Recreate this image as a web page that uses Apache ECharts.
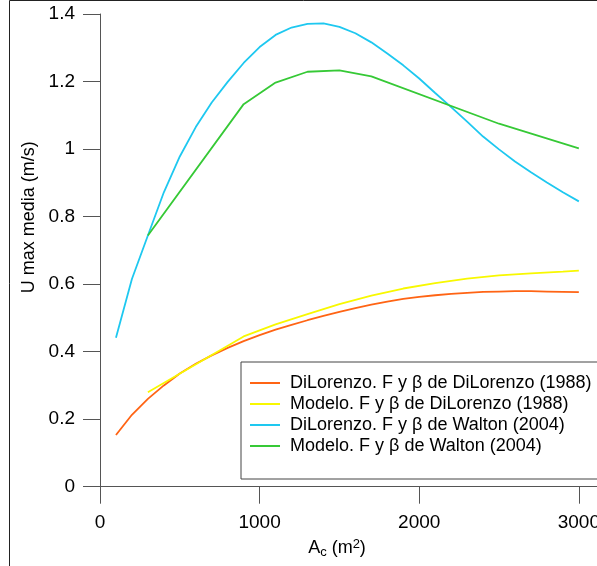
<!DOCTYPE html>
<html>
<head>
<meta charset="utf-8">
<script src="https://cdn.jsdelivr.net/npm/echarts@6/dist/echarts.min.js"></script>
<style>
  html, body { margin: 0; padding: 0; background: #fff; }
  #chart { width: 597px; height: 566px; }
</style>
</head>
<body>
<div id="chart"></div>
<script>
// ancho de canal Ac (m2)
const acDense = [100, 200, 300, 400, 500, 600, 700, 800, 900, 1000,
  1100, 1200, 1300, 1400, 1500, 1600, 1700, 1800, 1900, 2000,
  2100, 2200, 2300, 2400, 2500, 2600, 2700, 2800, 2900, 3000]
const diLorenzoDiLorenzo = [0.153, 0.213, 0.260, 0.300, 0.335, 0.364, 0.389, 0.411, 0.431, 0.449,
  0.465, 0.479, 0.493, 0.506, 0.518, 0.529, 0.539, 0.548, 0.556, 0.562,
  0.567, 0.571, 0.574, 0.577, 0.578, 0.579, 0.579, 0.578, 0.577, 0.576]
const diLorenzoWalton = [0.441, 0.615, 0.744, 0.872, 0.978, 1.065, 1.138, 1.199, 1.255, 1.302,
  1.338, 1.360, 1.371, 1.372, 1.362, 1.343, 1.316, 1.283, 1.248, 1.209,
  1.166, 1.124, 1.081, 1.037, 0.999, 0.963, 0.931, 0.901, 0.872, 0.845]

const acModelo = [300, 900, 1100, 1300, 1500, 1700, 1900, 2100, 2300, 2500, 2700, 2900, 3000]
const modeloDiLorenzo = [0.280, 0.445, 0.481, 0.511, 0.541, 0.566, 0.587, 0.603, 0.616, 0.626, 0.632, 0.637, 0.640]

const acModeloW = [300, 900, 1100, 1300, 1500, 1700, 2500, 3000]
const modeloWalton = [0.744, 1.133, 1.197, 1.229, 1.233, 1.215, 1.075, 1.002]

const seriesNames = [
  'DiLorenzo. F y β de DiLorenzo (1988)',
  'Modelo. F y β de DiLorenzo (1988)',
  'DiLorenzo. F y β de Walton (2004)',
  'Modelo. F y β de Walton (2004)'
]
const seriesColors = ['#ff6414', '#f8f800', '#1ec8f0', '#36c936']

const pairs = (xs, ys) => xs.map((x, i) => [x, ys[i]])
const seriesData = [
  pairs(acDense, diLorenzoDiLorenzo),
  pairs(acModelo, modeloDiLorenzo),
  pairs(acDense, diLorenzoWalton),
  pairs(acModeloW, modeloWalton)
]

const font = 'Liberation Sans, Arial, sans-serif'
const axisGray = '#555'

const chart = echarts.init(document.getElementById('chart'))
chart.setOption({
  animation: false,
  textStyle: { fontFamily: font },
  grid: { left: 100, top: 14, width: 498, height: 472.7, outerBoundsMode: 'none', containLabel: false },
  graphic: [{
    type: 'rect',
    shape: { x: 9.5, y: 0.5, width: 620, height: 620 },
    style: { fill: 'none', stroke: '#222', lineWidth: 1 },
    silent: true
  }],
  legend: {
    orient: 'vertical',
    left: 241,
    top: 362,
    padding: [12, 30, 24, 9],
    itemGap: 3,
    itemWidth: 30,
    itemHeight: 2,
    icon: 'rect',
    backgroundColor: '#fff',
    borderColor: '#444',
    borderWidth: 1,
    textStyle: { fontSize: 18, color: '#000', fontFamily: font, padding: [0, 0, 0, 5] },
    data: seriesNames
  },
  xAxis: {
    type: 'value',
    min: 0,
    max: 3120,
    interval: 1000,
    name: 'A{sub|c} (m{sup|2})',
    nameLocation: 'middle',
    nameGap: 50,
    nameTextStyle: {
      fontSize: 18, color: '#000', padding: [0, 24, 0, 0],
      rich: {
        sub: { fontSize: 13, verticalAlign: 'bottom', padding: [8, 0, 0, 0] },
        sup: { fontSize: 13, verticalAlign: 'top', padding: [0, 0, 8, 0] }
      }
    },
    axisLine: { onZero: false, lineStyle: { color: axisGray, width: 1 } },
    axisTick: { inside: false, length: 17, lineStyle: { color: axisGray } },
    axisLabel: { fontSize: 19, color: '#000', margin: 27, showMaxLabel: false, formatter: v => String(v) },
    splitLine: { show: false }
  },
  yAxis: {
    type: 'value',
    min: 0,
    max: 1.4,
    interval: 0.2,
    name: 'U max media (m/s)',
    nameLocation: 'middle',
    nameGap: 62,
    nameTextStyle: { fontSize: 18, color: '#000', padding: [0, 0, 0, 66] },
    axisLine: { show: true, lineStyle: { color: axisGray, width: 1 } },
    axisTick: { show: true, inside: false, length: 17, lineStyle: { color: axisGray } },
    axisLabel: { fontSize: 19, color: '#000', margin: 25 },
    splitLine: { show: false }
  },
  series: seriesNames.map((name, i) => ({
    name: name,
    type: 'line',
    data: seriesData[i],
    showSymbol: false,
    symbol: 'none',
    z: 2,
    itemStyle: { color: seriesColors[i] },
    lineStyle: { color: seriesColors[i], width: 1.8 }
  }))
})
</script>
</body>
</html>
